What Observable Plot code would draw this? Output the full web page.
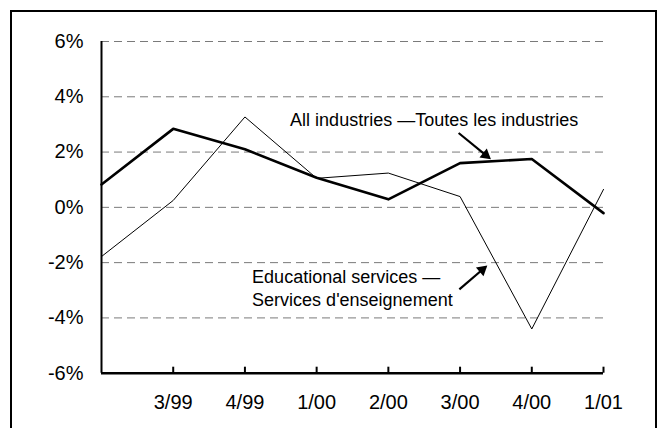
<!DOCTYPE html>
<html>
<head>
<meta charset="utf-8">
<script src="https://cdn.jsdelivr.net/npm/d3@7"></script>
<script src="https://cdn.jsdelivr.net/npm/@observablehq/plot@0.6"></script>
<style>
  html, body { margin: 0; padding: 0; background: #fff; overflow: hidden; }
  #wrap { position: relative; width: 662px; height: 428px; }
  #frame { position: absolute; left: 10px; top: 10px; width: 647px; height: 500px;
           border: 2.5px solid #000; box-sizing: border-box; }
  #chart { position: absolute; left: 0; top: 0; }
</style>
</head>
<body>
<div id="wrap"><div id="frame"></div><div id="chart"></div></div>
<script>
// ---- data ----
const quarters = ["2/99", "3/99", "4/99", "1/00", "2/00", "3/00", "4/00", "1/01"];
const tickLabels = ["3/99", "4/99", "1/00", "2/00", "3/00", "4/00", "1/01"];
const allIndustries = [0.83, 2.84, 2.1, 1.07, 0.29, 1.6, 1.75, -0.21];
const educational = [-1.78, 0.25, 3.27, 1.05, 1.24, 0.39, -4.4, 0.65];
const yTicks = [-6, -4, -2, 0, 2, 4, 6];
const gridValues = [-4, -2, 0, 2, 4, 6];

// annotations (x in quarter index, y in %)
const labelAll = [{x: 2.63, y: 3.16, text: "All industries \u2014Toutes les industries"}];
const labelEdu = [
  {x: 2.10, y: -2.52, text: "Educational services \u2014"},
  {x: 2.10, y: -3.36, text: "Services d'enseignement"}
];
const arrows = [
  {x1: 4.98, y1: 2.69, x2: 5.43, y2: 1.74},
  {x1: 4.99, y1: -2.97, x2: 5.38, y2: -2.10}
];

// ---- layout ----
const W = 662, H = 428;
const mL = 101, mR = 59, mT = 41, mB = 55.3;
const pxX = (W - mL - mR) / (quarters.length - 1);
const pxY = (H - mT - mB) / 12;
const tickLen = 6;

const idx = quarters.map((q, i) => i);
const allData = idx.map(i => ({i, v: allIndustries[i]}));
const eduData = idx.map(i => ({i, v: educational[i]}));
const tickIdx = tickLabels.map(t => quarters.indexOf(t));

// arrow heads as rotated triangles
const headR = 4.3;
const tipOffset = 2 * headR * Math.sqrt(Math.PI / (3 * Math.sqrt(3)));
const heads = arrows.map(a => {
  const dx = (a.x2 - a.x1) * pxX, dy = -(a.y2 - a.y1) * pxY;
  const L = Math.hypot(dx, dy), ux = dx / L, uy = dy / L;
  const cx = a.x2 - tipOffset * ux / pxX;
  const cy = a.y2 + tipOffset * uy / pxY;
  return {x: cx, y: cy, angle: Math.atan2(dx, -dy) * 180 / Math.PI, x1: a.x1, y1: a.y1};
});

const plot = Plot.plot({
  width: W, height: H,
  marginLeft: mL, marginRight: mR, marginTop: mT, marginBottom: mB,
  style: {fontFamily: "Arial, 'Liberation Sans', sans-serif", fontSize: "20px", color: "#000", background: "transparent", overflow: "visible"},
  x: {type: "linear", domain: [0, quarters.length - 1]},
  y: {domain: [-6, 6]},
  marks: [
    Plot.ruleY(gridValues, {stroke: "#7a7a7a", strokeWidth: 1, strokeDasharray: "8,5"}),
    Plot.axisY({ticks: yTicks, tickFormat: d => `${d}%`, tickSize: 0, tickPadding: 18, fontSize: 20}),
    Plot.axisX({ticks: tickIdx, tickFormat: i => quarters[i], tickSize: 0, tickPadding: 22, fontSize: 20}),
    Plot.ruleX(tickIdx, {x: d => d, y1: -6, y2: -6 + tickLen / pxY, stroke: "#000", strokeWidth: 2}),
    Plot.line(eduData, {x: "i", y: "v", stroke: "#000", strokeWidth: 1}),
    Plot.line(allData, {x: "i", y: "v", stroke: "#000", strokeWidth: 2.6}),
    Plot.ruleX([0], {stroke: "#000", strokeWidth: 2}),
    Plot.ruleY([-6], {stroke: "#000", strokeWidth: 2.6}),
    Plot.link(heads, {x1: "x1", y1: "y1", x2: "x", y2: "y", stroke: "#000", strokeWidth: 2.2}),
    Plot.dot(heads, {x: "x", y: "y", symbol: "triangle", r: headR, rotate: "angle", fill: "#000", stroke: "none"}),
    Plot.text(labelAll, {x: "x", y: "y", text: "text", textAnchor: "start", fontSize: 18, fill: "#000"}),
    Plot.text(labelEdu, {x: "x", y: "y", text: "text", textAnchor: "start", fontSize: 18, fill: "#000"})
  ]
});
document.getElementById("chart").appendChild(plot);
</script>
</body>
</html>
